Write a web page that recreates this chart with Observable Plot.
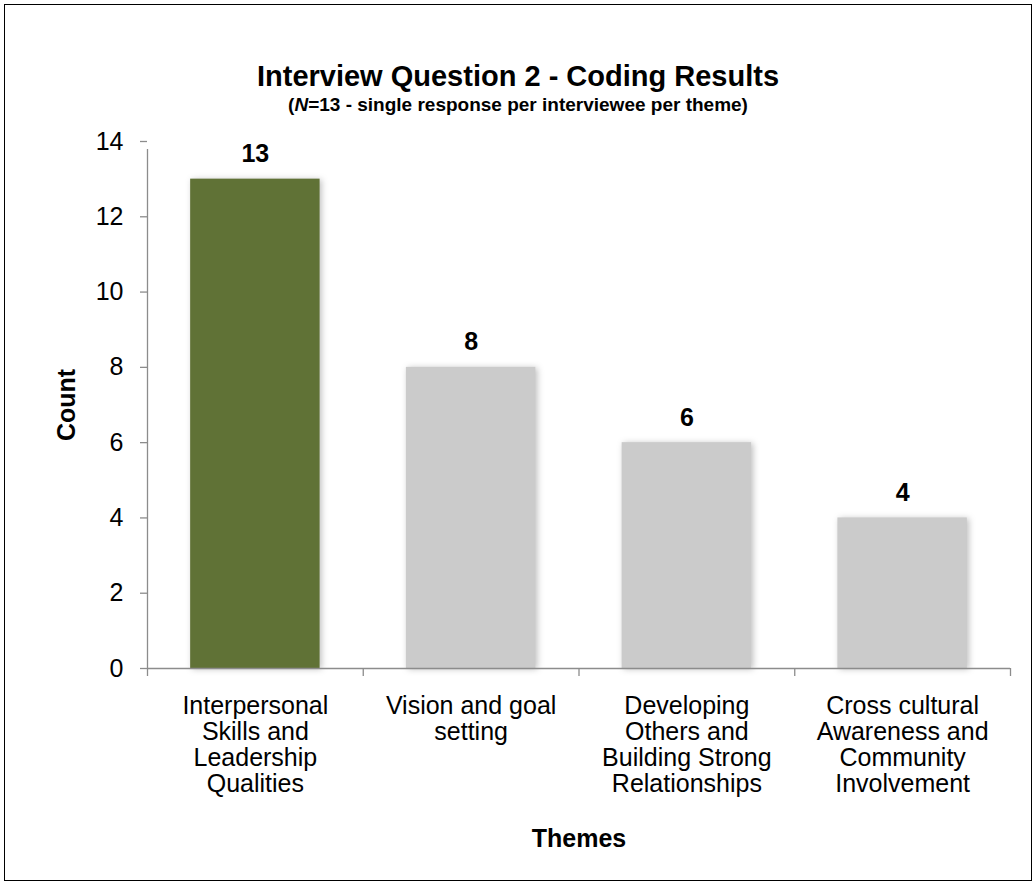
<!DOCTYPE html>
<html>
<head>
<meta charset="utf-8">
<script src="https://cdn.jsdelivr.net/npm/d3@7"></script>
<script src="https://cdn.jsdelivr.net/npm/@observablehq/plot@0.6"></script>
<style>
  html, body { margin: 0; padding: 0; background: #fff; }
  body { width: 1036px; height: 886px; position: relative; overflow: hidden; font-family: "Liberation Sans", Arial, sans-serif; }
  #frame { position: absolute; left: 4px; top: 4px; width: 1028px; height: 877px; border: 1px solid #000; box-sizing: border-box; }
  #title { position: absolute; left: 0; width: 1036px; top: 60px; line-height: 32px; text-align: center; font-weight: bold; font-size: 29px; color: #000; }
  #subtitle { position: absolute; left: 0; width: 1036px; top: 94px; line-height: 21px; text-align: center; font-weight: bold; font-size: 19px; color: #000; }
  #chart { position: absolute; left: 0; top: 0; }
</style>
</head>
<body>
<div id="frame"></div>
<div id="title">Interview Question 2 - Coding Results</div>
<div id="subtitle">(<i>N</i>=13 - single response per interviewee per theme)</div>
<div id="chart"></div>
<script>
const categories = [
  "Interpersonal\nSkills and\nLeadership\nQualities",
  "Vision and goal\nsetting",
  "Developing\nOthers and\nBuilding Strong\nRelationships",
  "Cross cultural\nAwareness and\nCommunity\nInvolvement"
];
const counts = [13, 8, 6, 4];
const barColors = ["#607236", "#cbcbcb", "#cbcbcb", "#cbcbcb"];
const yTicks = [0, 2, 4, 6, 8, 10, 12, 14];
const yLabel = "Count";
const xLabel = "Themes";

const data = categories.map((c, i) => ({theme: c, count: counts[i], color: barColors[i], i}));
const boundaries = d3.range(categories.length + 1);
const axisColor = "#8c8c8c";

const plot = Plot.plot({
  width: 1036,
  height: 886,
  marginLeft: 147,
  marginRight: 26,
  marginTop: 141,
  marginBottom: 218,
  style: {fontFamily: "'Liberation Sans', Arial, sans-serif", background: "transparent"},
  x: {domain: [0, categories.length], axis: null},
  y: {domain: [0, 14], ticks: yTicks, axis: null},
  marks: [
    Plot.rectY(data, {x1: d => d.i + 0.2, x2: d => d.i + 0.8, y1: 0, y2: "count", fill: "color"}),
    Plot.ruleY([0], {stroke: axisColor, strokeWidth: 1.3}),
    Plot.ruleX([0], {y1: 0, y2: 14, insetBottom: -8, stroke: axisColor, strokeWidth: 1.3}),
    Plot.ruleX(boundaries, {x: d => d, y1: 0, y2: 0, insetBottom: -8, stroke: axisColor, strokeWidth: 1.3}),
    Plot.ruleY(yTicks, {y: d => d, x1: 0, x2: 0, insetLeft: -7, stroke: axisColor, strokeWidth: 1.3}),
    Plot.text(yTicks, {y: d => d, x: 0, text: d => String(d), textAnchor: "end", dx: -24, fontSize: 25, fill: "#000"}),
    Plot.text(data, {x: d => d.i + 0.5, y: "count", text: d => String(d.count), dy: -25, fontSize: 25, fontWeight: "bold", fill: "#000"}),
    Plot.text(data, {x: d => d.i + 0.5, y: 0, text: "theme", dy: 27, lineAnchor: "top", lineHeight: 26 / 25, fontSize: 25, fill: "#000"}),
    Plot.text([yLabel], {frameAnchor: "left", textAnchor: "middle", lineAnchor: "middle", rotate: -90, dx: -81, fontSize: 25, fontWeight: "bold", fill: "#000"}),
    Plot.text([xLabel], {frameAnchor: "bottom", textAnchor: "middle", lineAnchor: "middle", dy: 170, fontSize: 25, fontWeight: "bold", fill: "#000"})
  ]
});
d3.select(plot).selectAll("rect").filter(function() { return this.parentNode && this.parentNode.getAttribute("aria-label") === "rect"; })
  .style("filter", "drop-shadow(2px 1px 3px rgba(0,0,0,0.25))");
document.getElementById("chart").appendChild(plot);
</script>
</body>
</html>
